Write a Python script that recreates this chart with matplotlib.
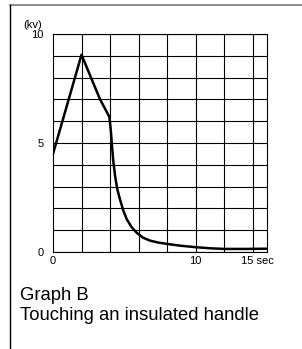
import matplotlib
matplotlib.use("Agg")
import matplotlib.pyplot as plt
from matplotlib.lines import Line2D
from matplotlib.transforms import ScaledTranslation

plt.rcParams["font.family"] = ["Liberation Sans", "DejaVu Sans"]

# voltage on the body after touching an insulated handle
time_s = [0, 2, 2.6, 3.3, 3.95, 4.05, 4.12, 4.22, 4.35, 4.5, 4.7, 4.93, 5.17, 5.5, 5.87,
          6.3, 6.8, 7.4, 8.0, 8.9, 10, 11, 12, 13.5, 15]
voltage_kv = [4.5, 9.05, 8.1, 7.0, 6.2, 5.6, 5.0, 4.2, 3.5, 2.9, 2.4, 1.9, 1.5, 1.15, 0.88,
              0.66, 0.52, 0.43, 0.37, 0.29, 0.22, 0.17, 0.14, 0.14, 0.15]

x_ticks = [0, 10, 15]
x_tick_labels = ["0", "10", "15 sec"]
y_ticks = [0, 5, 10]
y_tick_labels = ["0", "5", "10"]
title = "Graph B"
subtitle = "Touching an insulated handle"

fig = plt.figure(figsize=(3.02, 3.49), dpi=100)
ax = fig.add_axes([0.1755, 0.278, 0.7085, 0.6246])

ax.plot(time_s, voltage_kv, color="black", lw=1.8, solid_joinstyle="round")

ax.set_xlim(0, 15)
ax.set_ylim(0, 10)
ax.set_xticks(range(0, 15, 2), minor=True)
ax.set_yticks(range(0, 11), minor=True)
ax.set_xticks(x_ticks)
ax.set_xticklabels(x_tick_labels)
ax.set_yticks(y_ticks)
ax.set_yticklabels(y_tick_labels)
ax.grid(which="both", color="black", lw=0.8)
ax.xaxis.grid(False, which="major")
ax.tick_params(which="both", length=0, labelsize=8, pad=3)
ax.tick_params(axis="y", pad=7)
for s in ax.spines.values():
    s.set_linewidth(0.8)
    s.set_color("black")

# 10 sec gridline is dropped as a minor tick, draw it back
ax.axvline(10, color="black", lw=0.8, zorder=0.5)

# nudge "15 sec" a bit to the left like the original
lab = ax.get_xticklabels()[-1]
lab.set_transform(lab.get_transform() + ScaledTranslation(-7 / 72, 0, fig.dpi_scale_trans))

ax.text(-0.093, 1.04, "(kv)", transform=ax.transAxes, fontsize=8, ha="center", va="center")

fig.text(20 / 302, 1 - 295 / 349, title, fontsize=13.3, va="center", ha="left")
fig.text(20 / 302, 1 - 316 / 349, subtitle, fontsize=13.3, va="center", ha="left")

# page frame: top and left rule
fig.add_artist(Line2D([10 / 302, 1], [1 - 5 / 349] * 2, color="#777777", lw=1.2))
fig.add_artist(Line2D([10 / 302] * 2, [1 - 5 / 349, 0], color="black", lw=1))

fig.savefig("out.png", dpi=100)
